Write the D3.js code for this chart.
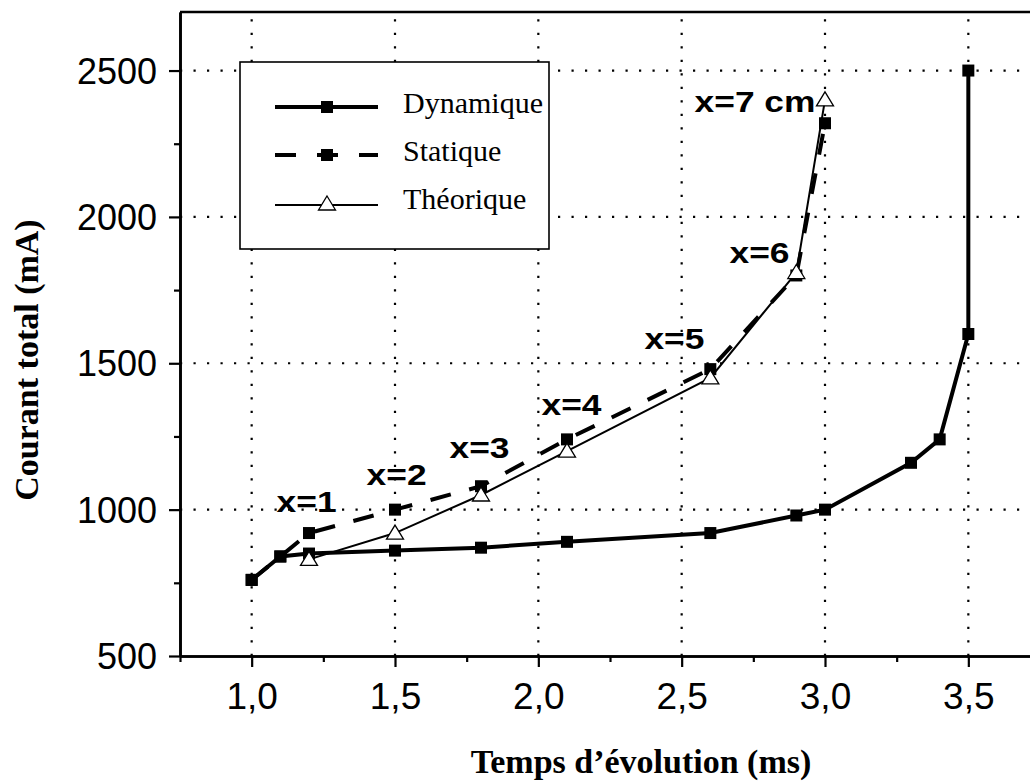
<!DOCTYPE html>
<html>
<head>
<meta charset="utf-8">
<script src="https://cdn.jsdelivr.net/npm/d3@7/dist/d3.min.js"></script>
<style>
  html, body { margin: 0; padding: 0; background: #fff; }
  svg { display: block; }
</style>
</head>
<body>
<svg id="chart" width="1030" height="781"></svg>
<script>
// Temps d'évolution (ms) for each measured point
const tDyn = [1.0, 1.1, 1.2, 1.5, 1.8, 2.1, 2.6, 2.9, 3.0, 3.3, 3.4, 3.5, 3.5];
const iDyn = [760, 840, 850, 860, 870, 890, 920, 980, 1000, 1160, 1240, 1600, 2500];

const tStat = [1.0, 1.1, 1.2, 1.5, 1.8, 2.1, 2.6, 2.9, 3.0];
const iStat = [760, 840, 920, 1000, 1080, 1240, 1480, 1800, 2320];

const tTheo = [1.2, 1.5, 1.8, 2.1, 2.6, 2.9, 3.0];
const iTheo = [830, 920, 1050, 1200, 1450, 1810, 2400];

// Position annotations (anchored in data units)
const posText = ["x=1", "x=2", "x=3", "x=4", "x=5", "x=6", "x=7 cm"];
const posT = [1.087, 1.401, 1.690, 2.011, 2.370, 2.667, 2.545];
const posI = [991, 1083, 1175, 1322, 1550, 1843, 2358];

const xTicks = [1.0, 1.5, 2.0, 2.5, 3.0, 3.5];
const xTickLabels = ["1,0", "1,5", "2,0", "2,5", "3,0", "3,5"];
const xMinor = [0.75, 1.25, 1.75, 2.25, 2.75, 3.25, 3.75];
const yTicks = [500, 1000, 1500, 2000, 2500];
const yTickLabels = ["500", "1000", "1500", "2000", "2500"];
const yMinor = [750, 1250, 1750, 2250];

const seriesNames = ["Dynamique", "Statique", "Théorique"];

const svg = d3.select("#chart");
const plotL = 180, plotT = 12, plotB = 656, plotR = 1040;

const x = d3.scaleLinear().domain([0.75, 3.75]).range([plotL, plotR]);
const y = d3.scaleLinear().domain([500, 2700]).range([plotB, plotT]);

const sans = "'Liberation Sans', Arial, sans-serif";
const serif = "'Liberation Serif', 'Times New Roman', serif";

// dotted grid
const grid = svg.append("g");
grid.selectAll("line.v").data(xTicks).join("line")
  .attr("x1", d => x(d)).attr("x2", d => x(d))
  .attr("y1", plotB).attr("y2", plotT)
  .attr("stroke", "#000").attr("stroke-width", 2.2)
  .attr("stroke-dasharray", "2.2,11.3");
grid.selectAll("line.h").data(yTicks.filter(d => d > 500)).join("line")
  .attr("x1", plotL).attr("x2", plotR)
  .attr("y1", d => y(d)).attr("y2", d => y(d))
  .attr("stroke", "#000").attr("stroke-width", 2.2)
  .attr("stroke-dasharray", "2.2,11.3");

// axes
function styleAxis(g) {
  g.select(".domain").attr("stroke", "#000").attr("stroke-width", 2.6);
  g.selectAll(".tick line").attr("stroke", "#000").attr("stroke-width", 2.2);
}

const xAxis = svg.append("g").attr("transform", `translate(0,${plotB})`)
  .call(d3.axisBottom(x).tickValues(xTicks).tickSize(11).tickSizeOuter(0)
    .tickFormat((d, i) => xTickLabels[i]));
styleAxis(xAxis);
xAxis.selectAll(".tick text")
  .attr("font-family", sans).attr("font-size", 37).attr("fill", "#000")
  .attr("dy", 0).attr("y", 53);

const xAxisMinor = svg.append("g").attr("transform", `translate(0,${plotB})`)
  .call(d3.axisBottom(x).tickValues(xMinor).tickSize(6).tickSizeOuter(0).tickFormat(""));
styleAxis(xAxisMinor);

const yAxis = svg.append("g").attr("transform", `translate(${plotL},0)`)
  .call(d3.axisLeft(y).tickValues(yTicks).tickSize(11).tickSizeOuter(0)
    .tickFormat((d, i) => yTickLabels[i]));
styleAxis(yAxis);
yAxis.selectAll(".tick text")
  .attr("font-family", sans).attr("font-size", 36).attr("fill", "#000")
  .attr("x", -23).attr("dy", "0.35em");

const yAxisMinor = svg.append("g").attr("transform", `translate(${plotL},0)`)
  .call(d3.axisLeft(y).tickValues(yMinor).tickSize(6).tickSizeOuter(0).tickFormat(""));
styleAxis(yAxisMinor);

// top frame line
svg.append("line")
  .attr("x1", plotL).attr("x2", plotR).attr("y1", plotT).attr("y2", plotT)
  .attr("stroke", "#000").attr("stroke-width", 2.6);

// axis titles
svg.append("text")
  .attr("x", 641).attr("y", 773)
  .attr("text-anchor", "middle")
  .attr("font-family", serif).attr("font-weight", "bold").attr("font-size", 34)
  .text("Temps d’évolution (ms)");

svg.append("text")
  .attr("transform", "translate(38,360) rotate(-90)")
  .attr("text-anchor", "middle")
  .attr("font-family", serif).attr("font-weight", "bold").attr("font-size", 34)
  .text("Courant total (mA)");

// series
const line = d3.line().x(d => x(d[0])).y(d => y(d[1]));
const dyn = tDyn.map((t, i) => [t, iDyn[i]]);
const stat = tStat.map((t, i) => [t, iStat[i]]);
const theo = tTheo.map((t, i) => [t, iTheo[i]]);

const sq = 12;
const triPath = "M0,-8 L8.5,6 L-8.5,6 Z";

svg.append("path").datum(dyn).attr("d", line)
  .attr("fill", "none").attr("stroke", "#000").attr("stroke-width", 4);
svg.append("g").selectAll("rect").data(dyn).join("rect")
  .attr("x", d => x(d[0]) - sq / 2).attr("y", d => y(d[1]) - sq / 2)
  .attr("width", sq).attr("height", sq).attr("fill", "#000");

svg.append("path").datum(stat).attr("d", line)
  .attr("fill", "none").attr("stroke", "#000").attr("stroke-width", 4)
  .attr("stroke-dasharray", "21,19");
svg.append("g").selectAll("rect").data(stat).join("rect")
  .attr("x", d => x(d[0]) - sq / 2).attr("y", d => y(d[1]) - sq / 2)
  .attr("width", sq).attr("height", sq).attr("fill", "#000");

svg.append("path").datum(theo).attr("d", line)
  .attr("fill", "none").attr("stroke", "#000").attr("stroke-width", 2);
svg.append("g").selectAll("path").data(theo).join("path")
  .attr("d", triPath)
  .attr("transform", d => `translate(${x(d[0])},${y(d[1])})`)
  .attr("fill", "#fff").attr("stroke", "#000").attr("stroke-width", 1.3);

// position annotations
svg.append("g").selectAll("text").data(posText).join("text")
  .attr("transform", (d, i) => `translate(${x(posT[i])},${y(posI[i])}) scale(1.22,1)`)
  .attr("font-family", sans).attr("font-weight", "bold").attr("font-size", 29)
  .attr("fill", "#000")
  .text(d => d);

// legend
const lg = svg.append("g");
lg.append("rect")
  .attr("x", 240).attr("y", 62).attr("width", 309).attr("height", 187)
  .attr("fill", "#fff").attr("stroke", "#000").attr("stroke-width", 1.6);
const rowY = [107, 155, 205];
const textY = [113, 161, 209];
// Dynamique
lg.append("line").attr("x1", 275).attr("x2", 378).attr("y1", rowY[0]).attr("y2", rowY[0])
  .attr("stroke", "#000").attr("stroke-width", 4);
lg.append("rect").attr("x", 327 - sq / 2).attr("y", rowY[0] - sq / 2)
  .attr("width", sq).attr("height", sq).attr("fill", "#000");
// Statique
lg.append("line").attr("x1", 275).attr("x2", 378).attr("y1", rowY[1]).attr("y2", rowY[1])
  .attr("stroke", "#000").attr("stroke-width", 4).attr("stroke-dasharray", "21,21");
lg.append("rect").attr("x", 327 - sq / 2).attr("y", rowY[1] - sq / 2)
  .attr("width", sq).attr("height", sq).attr("fill", "#000");
// Théorique
lg.append("line").attr("x1", 275).attr("x2", 378).attr("y1", rowY[2]).attr("y2", rowY[2])
  .attr("stroke", "#000").attr("stroke-width", 2.2);
lg.append("path").attr("d", triPath).attr("transform", `translate(327,${rowY[2] - 1})`)
  .attr("fill", "#fff").attr("stroke", "#000").attr("stroke-width", 1.3);

lg.selectAll("text.name").data(seriesNames).join("text")
  .attr("x", 403).attr("y", (d, i) => textY[i])
  .attr("font-family", serif).attr("font-size", 30).attr("fill", "#000")
  .text(d => d);
</script>
</body>
</html>
